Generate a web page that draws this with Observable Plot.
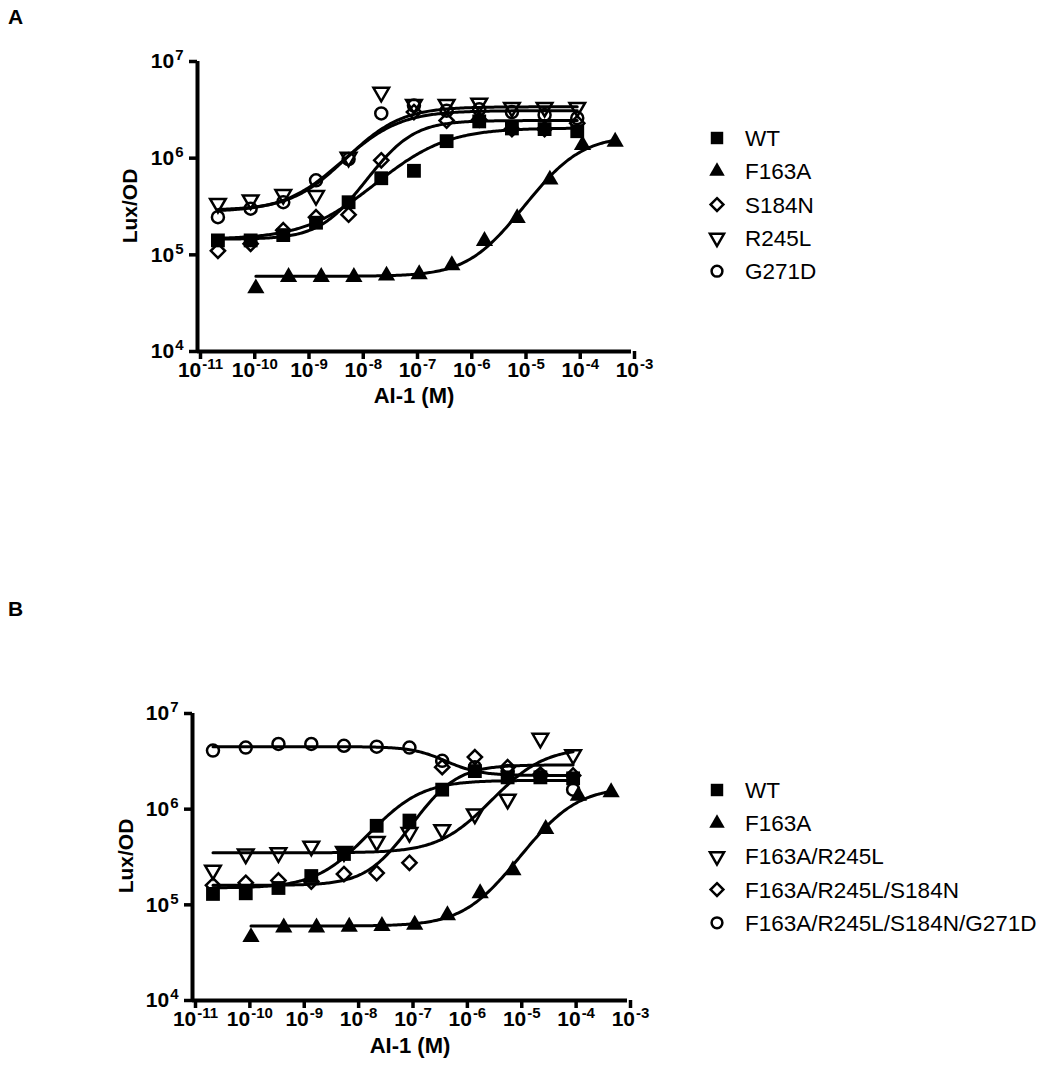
<!DOCTYPE html>
<html>
<head>
<meta charset="utf-8">
<script src="https://cdn.jsdelivr.net/npm/d3@7"></script>
<script src="https://cdn.jsdelivr.net/npm/@observablehq/plot@0.6"></script>
<style>
  body { margin: 0; background: #fff; }
  #root { position: relative; width: 1050px; height: 1085px; font-family: "Liberation Sans", Arial, sans-serif; color: #000; overflow: hidden; }
  .abs { position: absolute; white-space: nowrap; line-height: 1; }
  .letter { font-weight: bold; font-size: 21px; }
  .ytitle { font-weight: bold; font-size: 21px; transform: translate(-50%, -50%) rotate(-90deg); }
  .xtitle { font-weight: bold; font-size: 22px; transform: translate(-50%, -50%); }
</style>
</head>
<body>
<div id="root"></div>
<script>
// ---------------- data ----------------
// AI-1 concentrations (M)
const concCommon = [2.38e-11, 9.54e-11, 3.81e-10, 1.53e-9, 6.10e-9, 2.44e-8, 9.77e-8, 3.91e-7, 1.56e-6, 6.25e-6, 2.5e-5, 1e-4];
const concF163A  = [1.19e-10, 4.77e-10, 1.91e-9, 7.63e-9, 3.05e-8, 1.22e-7, 4.88e-7, 1.95e-6, 7.81e-6, 3.13e-5, 1.25e-4, 5e-4];

const xTicks = [1e-11, 1e-10, 1e-9, 1e-8, 1e-7, 1e-6, 1e-5, 1e-4, 1e-3];
const yTicks = [1e4, 1e5, 1e6, 1e7];

// Panel A (Lux/OD)
const seriesA = ["WT", "F163A", "S184N", "R245L", "G271D"];
const luxA_WT    = [1.41e5, 1.41e5, 1.6e5, 2.15e5, 3.5e5, 6.2e5, 7.4e5, 1.5e6, 2.4e6, 2.03e6, 2.0e6, 1.9e6];
const luxA_F163A = [4.5e4, 5.9e4, 5.9e4, 5.9e4, 6.1e4, 6.3e4, 7.8e4, 1.39e5, 2.4e5, 6.0e5, 1.37e6, 1.48e6];
const luxA_S184N = [1.1e5, 1.3e5, 1.8e5, 2.45e5, 2.6e5, 9.5e5, 3.0e6, 2.45e6, 2.5e6, 2.0e6, 2.0e6, 2.3e6];
const luxA_R245L = [3.4e5, 3.7e5, 4.2e5, 4.1e5, 1.02e6, 4.8e6, 3.6e6, 3.6e6, 3.7e6, 3.35e6, 3.35e6, 3.35e6];
const luxA_G271D = [2.45e5, 3.0e5, 3.5e5, 5.9e5, 9.8e5, 2.9e6, 3.5e6, 3.1e6, 3.2e6, 3.0e6, 2.8e6, 2.6e6];
// fitted sigmoid parameters
const fitA_bottom  = [1.45e5, 6.0e4, 1.45e5, 2.9e5, 2.8e5];
const fitA_top     = [2.05e6, 1.7e6, 2.45e6, 3.4e6, 3.1e6];
const fitA_logEC50 = [-6.95, -4.25, -7.35, -7.7, -7.75];
const fitA_hill    = [0.75, 1.0, 1.15, 0.95, 0.9];

// Panel B (Lux/OD)
const seriesB = ["WT", "F163A", "F163A/R245L", "F163A/R245L/S184N", "F163A/R245L/S184N/G271D"];
const luxB_WT     = [1.3e5, 1.32e5, 1.5e5, 2.0e5, 3.4e5, 6.7e5, 7.6e5, 1.6e6, 2.5e6, 2.15e6, 2.15e6, 2.1e6];
const luxB_F163A  = [4.6e4, 5.8e4, 5.8e4, 5.9e4, 6.0e4, 6.2e4, 7.8e4, 1.32e5, 2.3e5, 6.2e5, 1.38e6, 1.5e6];
const luxB_double = [2.3e5, 3.4e5, 3.5e5, 4.1e5, 3.6e5, 4.6e5, 5.7e5, 6.1e5, 8.9e5, 1.27e6, 5.5e6, 3.7e6];
const luxB_triple = [1.6e5, 1.7e5, 1.8e5, 1.75e5, 2.1e5, 2.15e5, 2.75e5, 2.75e6, 3.5e6, 2.75e6, 2.3e6, 2.25e6];
const luxB_quad   = [4.1e6, 4.4e6, 4.8e6, 4.8e6, 4.6e6, 4.5e6, 4.4e6, 3.2e6, 2.75e6, 2.5e6, 2.25e6, 1.6e6];
const fitB_bottom  = [1.5e5, 6.0e4, 3.5e5, 1.6e5, 2.25e6];
const fitB_top     = [2.0e6, 1.7e6, 4.4e6, 2.9e6, 4.5e6];
const fitB_logEC50 = [-7.2, -4.25, -4.95, -6.45, -6.45];
const fitB_hill    = [1.0, 1.0, 1.0, 1.2, -1.4];

// ---------------- symbols ----------------
const symbolTriangleDown = {
  draw(context, size) {
    const y = Math.sqrt(size / (3 * Math.sqrt(3)));
    context.moveTo(0, 2 * y);
    context.lineTo(-Math.sqrt(3) * y, -y);
    context.lineTo(Math.sqrt(3) * y, -y);
    context.closePath();
  }
};
const SYM = {
  square:   {symbol: d3.symbolSquare,   r: 7.8, filled: true},
  triangle: {symbol: d3.symbolTriangle, r: 6.4, filled: true},
  diamond:  {symbol: d3.symbolDiamond2, r: 6.4, filled: false},
  tdown:    {symbol: symbolTriangleDown, r: 5.8, filled: false},
  circle:   {symbol: d3.symbolCircle,   r: 6.0, filled: false}
};
const symbolsA = [SYM.square, SYM.triangle, SYM.diamond, SYM.tdown, SYM.circle];
const symbolsB = [SYM.square, SYM.triangle, SYM.tdown, SYM.diamond, SYM.circle];

// ---------------- helpers ----------------
const fmt = d => "10^" + Math.round(Math.log10(d));
const FONT = "'Liberation Sans', Arial, sans-serif";

function fitCurve(name, conc, bottom, top, logEC50, hill) {
  const lo = Math.log10(d3.min(conc)), hi = Math.log10(d3.max(conc));
  return d3.range(241).map(i => {
    const lx = lo + (hi - lo) * i / 240;
    return {series: name, x: Math.pow(10, lx), y: bottom + (top - bottom) / (1 + Math.pow(10, (logEC50 - lx) * hill))};
  });
}

function superscripts(svg) {
  svg.querySelectorAll("text").forEach(t => {
    const m = /^10\^(-?\d+)$/.exec(t.textContent);
    if (!m) return;
    t.textContent = "10";
    t.setAttribute("font-size", "21");
    t.setAttribute("font-weight", "bold");
    const ts = document.createElementNS("http://www.w3.org/2000/svg", "tspan");
    ts.setAttribute("dy", "-8");
    ts.setAttribute("dx", "1");
    ts.setAttribute("font-size", "15");
    ts.textContent = m[1];
    t.appendChild(ts);
  });
}

function panel({series, concs, values, symbols, fits, top, height, margins, drawOrder}) {
  const points = series.flatMap((s, i) => values[i].map((v, j) => ({series: s, x: concs[i][j], y: v})));
  const curves = series.flatMap((s, i) => fitCurve(s, concs[i], fits.bottom[i], fits.top[i], fits.logEC50[i], fits.hill[i]));
  const chart = Plot.plot({
    width: 1050,
    height,
    marginLeft: margins[0], marginRight: margins[1], marginTop: margins[2], marginBottom: margins[3],
    x: {type: "log", domain: [1e-11, 1e-3]},
    y: {type: "log", domain: [1e4, 1e7]},
    style: {fontFamily: FONT, fontWeight: "bold", fontSize: "21px", background: "transparent", overflow: "visible"},
    marks: [
      Plot.line(curves, {x: "x", y: "y", z: "series", stroke: "black", strokeWidth: 3}),
      ...drawOrder.map(i => Plot.dot(points.filter(d => d.series === series[i]), {
        x: "x", y: "y",
        symbol: symbols[i].symbol, r: symbols[i].r,
        fill: symbols[i].filled ? "black" : "none",
        stroke: symbols[i].filled ? "none" : "black",
        strokeWidth: 2.5
      })),
      Plot.ruleX([1e-11], {y1: 1e4, y2: 1e7, strokeWidth: 4}),
      Plot.ruleY([1e4], {x1: 1e-11, x2: 1e-3, strokeWidth: 4}),
      Plot.axisX({ticks: xTicks, tickFormat: fmt, tickSize: 8, tickPadding: 3, strokeWidth: 3.5, label: null, dx: 3,
                  fontSize: 21, fontWeight: "bold", fontFamily: FONT}),
      Plot.axisY({ticks: yTicks, tickFormat: fmt, tickSize: 8, tickPadding: 6, strokeWidth: 3.5, label: null,
                  fontSize: 21, fontWeight: "bold", fontFamily: FONT})
    ]
  });
  superscripts(chart);
  chart.style.position = "absolute";
  chart.style.left = "0px";
  chart.style.top = top + "px";
  return chart;
}

function legend(names, symbols, x0, y0, dy) {
  const svg = d3.create("svg")
    .attr("width", 1050).attr("height", 1085)
    .style("position", "absolute").style("left", "0px").style("top", "0px")
    .style("overflow", "visible");
  names.forEach((n, i) => {
    const y = y0 + dy * i;
    const s = symbols[i];
    const r = s.r * 0.9;
    svg.append("path")
      .attr("transform", `translate(${x0},${y})`)
      .attr("d", d3.symbol(s.symbol, Math.PI * r * r)())
      .attr("fill", s.filled ? "black" : "none")
      .attr("stroke", s.filled ? "none" : "black")
      .attr("stroke-width", 2.5);
    svg.append("text")
      .attr("x", x0 + 28).attr("y", y + 8)
      .attr("font-family", FONT)
      .attr("font-size", 22.5)
      .text(n);
  });
  return svg.node();
}

function label(cls, text, x, y) {
  const d = document.createElement("div");
  d.className = "abs " + cls;
  d.style.left = x + "px";
  d.style.top = y + "px";
  d.textContent = text;
  return d;
}

// ---------------- build ----------------
const root = document.getElementById("root");

root.appendChild(panel({
  series: seriesA,
  concs: [concCommon, concF163A, concCommon, concCommon, concCommon],
  values: [luxA_WT, luxA_F163A, luxA_S184N, luxA_R245L, luxA_G271D],
  symbols: symbolsA,
  fits: {bottom: fitA_bottom, top: fitA_top, logEC50: fitA_logEC50, hill: fitA_hill},
  top: 0, height: 420, margins: [197, 419, 61, 69],
  drawOrder: [4, 3, 2, 1, 0]
}));

root.appendChild(panel({
  series: seriesB,
  concs: [concCommon, concF163A, concCommon, concCommon, concCommon],
  values: [luxB_WT, luxB_F163A, luxB_double, luxB_triple, luxB_quad],
  symbols: symbolsB,
  fits: {bottom: fitB_bottom, top: fitB_top, logEC50: fitB_logEC50, hill: fitB_hill},
  top: 600, height: 485, margins: [192, 423, 113, 85],
  drawOrder: [4, 3, 2, 1, 0]
}));

root.appendChild(legend(seriesA, symbolsA, 717, 138, 33.3));
root.appendChild(legend(seriesB, symbolsB, 717, 790, 33.2));

root.appendChild(label("letter", "A", 8, 6));
root.appendChild(label("letter", "B", 8, 598));
root.appendChild(label("ytitle", "Lux/OD", 129, 206));
root.appendChild(label("ytitle", "Lux/OD", 125, 856));
root.appendChild(label("xtitle", "AI-1 (M)", 414, 396));
root.appendChild(label("xtitle", "AI-1 (M)", 410, 1046));
</script>
</body>
</html>
